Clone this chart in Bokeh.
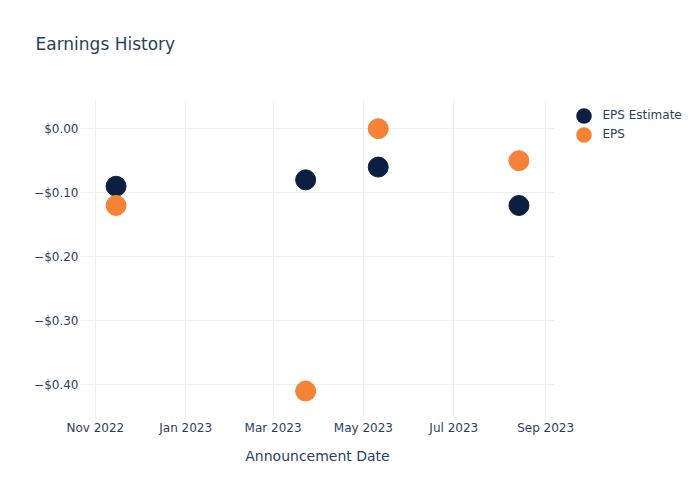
from datetime import datetime, timezone
from bokeh.plotting import figure
from bokeh.models import (ColumnDataSource, FixedTicker, DatetimeTickFormatter,
                          CustomJSTickFormatter, Legend, LegendItem, Range1d, Title)
from bokeh.embed import file_html
from bokeh.resources import INLINE

# ---- data ----
dates = ["2022-11-15", "2023-03-23", "2023-05-11", "2023-08-14"]
eps_estimate = [-0.09, -0.08, -0.06, -0.12]
eps_actual = [-0.12, -0.41, 0.00, -0.05]
x_tick_dates = ["2022-11-01", "2023-01-01", "2023-03-01", "2023-05-01", "2023-07-01", "2023-09-01"]
y_ticks = [0.0, -0.1, -0.2, -0.3, -0.4]
x_range_dates = ["2022-10-22", "2023-09-07"]
y_range = [-0.456, 0.044]

def ms(d):
    return datetime.strptime(d, "%Y-%m-%d").replace(tzinfo=timezone.utc).timestamp() * 1000.0

src = ColumnDataSource(dict(x=[ms(d) for d in dates], est=eps_estimate, act=eps_actual))

TEXT = "#2a3f5f"
GRID = "#ebf0f8"
NAVY = "#0c1f41"
ORANGE = "#f58235"

p = figure(frame_width=474, frame_height=320, output_backend="svg", toolbar_location=None,
           x_axis_type="datetime",
           x_range=Range1d(ms(x_range_dates[0]), ms(x_range_dates[1])),
           y_range=Range1d(y_range[0], y_range[1]),
           min_border_left=80, min_border_right=130, min_border_top=100, min_border_bottom=60)
p.outline_line_color = None
p.background_fill_color = "white"
p.border_fill_color = "white"

p.title.text = "Earnings History"
p.title.align = "left"
p.title.offset = -45
p.title.text_font = "DejaVu Sans"
p.title.text_font_size = "17px"
p.title.text_font_style = "normal"
p.title.text_color = TEXT
p.title.standoff = 62
# thin spacer between the title and the plot area
p.add_layout(Title(text=" ", text_font_size="2px", standoff=12, text_color="white"), "above")

r1 = p.scatter("x", "est", source=src, size=20, color=NAVY)
r2 = p.scatter("x", "act", source=src, size=20, color=ORANGE)

# legend-only renderers (hidden in the plot area) with larger legend markers
l1 = p.scatter("x", "est", source=src, size=8, color=NAVY, line_width=8, visible=False)
l2 = p.scatter("x", "act", source=src, size=8, color=ORANGE, line_width=8, visible=False)

p.xaxis.ticker = FixedTicker(ticks=[ms(d) for d in x_tick_dates])
p.xaxis.formatter = DatetimeTickFormatter(months="%b %Y", days="%b %Y", years="%b %Y")
p.yaxis.ticker = FixedTicker(ticks=y_ticks)
p.yaxis.formatter = CustomJSTickFormatter(code="""
    const v = Math.abs(tick) < 1e-9 ? 0 : tick;
    return (v < 0 ? "\u2212" : "") + "$" + Math.abs(v).toFixed(2);
""")
for ax in (p.xaxis, p.yaxis):
    ax.axis_line_color = None
    ax.major_tick_line_color = None
    ax.minor_tick_line_color = None
    ax.major_tick_out = 0
    ax.major_tick_in = 0
    ax.minor_tick_out = 0
    ax.minor_tick_in = 0
    ax.major_label_text_color = TEXT
    ax.major_label_text_font = "DejaVu Sans"
    ax.major_label_text_font_size = "12px"
p.xaxis.major_label_standoff = 0
p.yaxis.major_label_standoff = 2
p.xaxis.axis_label = "Announcement Date"
p.xaxis.axis_label_text_font = "DejaVu Sans"
p.xaxis.axis_label_text_font_size = "14px"
p.xaxis.axis_label_text_font_style = "normal"
p.xaxis.axis_label_text_color = TEXT
p.xaxis.axis_label_standoff = 10
p.xgrid.grid_line_color = GRID
p.ygrid.grid_line_color = GRID

legend = Legend(items=[LegendItem(label="EPS Estimate", renderers=[l1]),
                       LegendItem(label="EPS", renderers=[l2])],
                location=(19.5, 276.5), label_text_font="DejaVu Sans",
                label_text_font_size="12px", label_text_color=TEXT,
                glyph_width=19, glyph_height=19, spacing=0, padding=0,
                margin=0, border_line_color=None, background_fill_alpha=0,
                label_standoff=10, label_height=19)
p.add_layout(legend, "right")

open("out.html", "w").write(file_html(p, INLINE))
